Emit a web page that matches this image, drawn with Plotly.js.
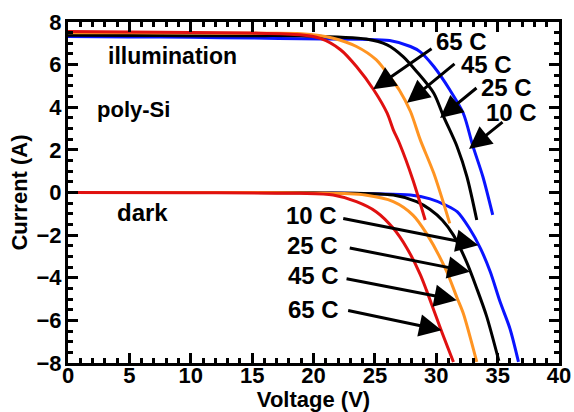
<!DOCTYPE html>
<html>
<head>
<meta charset="utf-8">
<script src="https://cdn.plot.ly/plotly-3.0.1.min.js"></script>
<style>
html,body{margin:0;padding:0;background:#fff;}
#chart{width:574px;height:412px;}
</style>
</head>
<body>
<div id="chart"></div>
<script>
// ---- Data ----
const temps = ["10 C", "25 C", "45 C", "65 C"];

// Illuminated I-V curves
const illumV10 = [0, 5, 10, 15, 19, 26.2, 27.9, 28.7, 29.8, 31.1, 32.2, 33.0, 33.8, 34.6];
const illumI10 = [7.32, 7.30, 7.28, 7.25, 7.21, 7.13, 6.85, 6.60, 5.91, 4.82, 3.72, 2.15, 0.74, -1.05];
const illumV25 = [0, 5, 10, 15, 19, 24.3, 26.0, 27.3, 28.4, 29.8, 30.6, 31.7, 32.5, 33.3];
const illumI25 = [7.38, 7.37, 7.36, 7.36, 7.35, 7.20, 6.93, 6.38, 5.68, 4.66, 3.56, 2.15, 0.74, -1.29];
const illumV45 = [0, 5, 10, 15, 19, 21.6, 23.5, 25.1, 26.2, 27.0, 27.9, 28.7, 29.8, 31.1];
const illumI45 = [7.50, 7.49, 7.48, 7.47, 7.45, 7.24, 6.85, 6.23, 5.44, 4.80, 3.80, 2.47, 0.90, -1.45];
const illumV65 = [0, 5, 10, 15, 18.9, 20.5, 22.2, 23.5, 24.9, 26.0, 26.5, 27.0, 28.1, 29.1];
const illumI65 = [7.55, 7.53, 7.51, 7.48, 7.40, 7.24, 6.70, 5.91, 4.82, 3.72, 2.94, 2.31, 0.59, -1.29];

// Dark I-V curves
const darkV10 = [0, 10, 20, 27.9, 29.5, 30.8, 31.7, 32.7, 33.6, 34.4, 35.2, 36.0, 36.7];
const darkI10 = [0, 0, -0.01, -0.12, -0.30, -0.60, -0.90, -1.68, -2.62, -3.72, -5.13, -6.38, -7.95];
const darkV25 = [0, 10, 20, 26.5, 28.4, 29.5, 30.5, 31.4, 32.5, 33.3, 34.1, 35.1];
const darkI25 = [0, 0, -0.01, -0.12, -0.43, -0.80, -1.30, -2.00, -3.30, -4.50, -5.80, -7.90];
const darkV45 = [0, 10, 20, 24.2, 26.5, 28.1, 29.2, 30.8, 31.7, 32.2, 33.3];
const darkI45 = [0, 0, -0.02, -0.12, -0.43, -1.06, -1.92, -3.64, -4.95, -5.67, -7.95];
const darkV65 = [0, 10, 18.9, 21.6, 23.5, 25.1, 26.5, 27.6, 28.7, 29.2, 30.4, 31.4];
const darkI65 = [0, -0.01, -0.04, -0.12, -0.43, -0.90, -1.68, -2.60, -3.85, -4.58, -6.46, -7.95];

// Annotation labels
const labelTexts = ["illumination", "poly-Si", "dark"];
const labelX = [8.5, 5.35, 6.1];
const labelY = [6.41, 3.88, -0.92];

// Temperature labels (illuminated group, then dark group) and their arrows
const illumTempX = [36.09, 35.76, 34.13, 32.02];
const illumTempY = [3.74, 4.91, 5.99, 7.07];
const illumArrowTailX = [35.52, 33.40, 31.61, 29.74];
const illumArrowTailY = [3.36, 4.96, 6.09, 6.79];
const illumArrowTipX = [32.67, 30.31, 27.62, 24.85];
const illumArrowTipY = [2.04, 3.50, 4.21, 4.84];

const darkTempX = [19.80, 19.88, 19.96, 19.96];
const darkTempY = [-1.06, -2.47, -3.88, -5.47];
const darkArrowTailX = [22.30, 22.83, 22.57, 22.70];
const darkArrowTailY = [-1.21, -2.59, -4.03, -5.52];
const darkArrowTipX = [33.43, 32.75, 31.67, 30.44];
const darkArrowTipY = [-2.47, -3.72, -5.05, -6.46];

// ---- Styles ----
const colors = ["#0a14ff", "#000000", "#ff9422", "#e01010"];
const FONT = "Liberation Sans, Arial, sans-serif";

const illumV = [illumV10, illumV25, illumV45, illumV65];
const illumI = [illumI10, illumI25, illumI45, illumI65];
const darkV = [darkV10, darkV25, darkV45, darkV65];
const darkI = [darkI10, darkI25, darkI45, darkI65];

const traces = [];
for (let k = 0; k < 4; k++) {
  traces.push({x: darkV[k], y: darkI[k], mode: "lines", name: "dark " + temps[k],
    line: {color: colors[k], width: 3, shape: "spline", smoothing: 0.8}, showlegend: false, hoverinfo: "skip"});
}
for (let k = 0; k < 4; k++) {
  traces.push({x: illumV[k], y: illumI[k], mode: "lines", name: "illumination " + temps[k],
    line: {color: colors[k], width: 3, shape: "spline", smoothing: 0.8}, showlegend: false, hoverinfo: "skip"});
}

const annotations = [];
const labelSizes = [23, 22, 24];
for (let i = 0; i < labelTexts.length; i++) {
  annotations.push({x: labelX[i], y: labelY[i], xref: "x", yref: "y", text: labelTexts[i],
    showarrow: false, font: {family: FONT, size: labelSizes[i], color: "#000", weight: "bold"}});
}
for (let k = 0; k < 4; k++) {
  annotations.push({x: illumTempX[k], y: illumTempY[k], xref: "x", yref: "y", text: temps[k],
    showarrow: false, font: {family: FONT, size: 24, color: "#000", weight: "bold"}});
  annotations.push({x: darkTempX[k], y: darkTempY[k], xref: "x", yref: "y", text: temps[k],
    showarrow: false, font: {family: FONT, size: 24, color: "#000", weight: "bold"}});
  annotations.push({x: illumArrowTipX[k], y: illumArrowTipY[k], ax: illumArrowTailX[k], ay: illumArrowTailY[k],
    xref: "x", yref: "y", axref: "x", ayref: "y", text: "", showarrow: true,
    arrowhead: 2, arrowsize: 1.5, arrowwidth: 3, arrowcolor: "#000", standoff: 0, startstandoff: 0});
  annotations.push({x: darkArrowTipX[k], y: darkArrowTipY[k], ax: darkArrowTailX[k], ay: darkArrowTailY[k],
    xref: "x", yref: "y", axref: "x", ayref: "y", text: "", showarrow: true,
    arrowhead: 2, arrowsize: 1.5, arrowwidth: 3, arrowcolor: "#000", standoff: 0, startstandoff: 0});
}

const axisCommon = {
  showline: true, linecolor: "#000", linewidth: 3, mirror: "ticks",
  ticks: "inside", ticklen: 10, tickwidth: 3, tickcolor: "#000",
  showgrid: false, zeroline: false,
  tickfont: {family: FONT, size: 22, color: "#000", weight: "bold"}
};

const layout = {
  width: 574, height: 412,
  margin: {l: 68, r: 15, t: 22, b: 49},
  paper_bgcolor: "#fff", plot_bgcolor: "#fff",
  showlegend: false,
  xaxis: Object.assign({}, axisCommon, {
    range: [0, 40], dtick: 5, tick0: 0, ticklabelstandoff: -9,
    minor: {dtick: 1, ticks: "inside", ticklen: 5, tickwidth: 3, tickcolor: "#000", showgrid: false},
    title: {text: "Voltage (V)", font: {family: FONT, size: 22, color: "#000", weight: "bold"}, standoff: 3}
  }),
  yaxis: Object.assign({}, axisCommon, {
    range: [-8, 8], dtick: 2, tick0: 0, ticklabelstandoff: -1,
    minor: {dtick: 0.5, ticks: "inside", ticklen: 5, tickwidth: 3, tickcolor: "#000", showgrid: false},
    title: {text: "Current (A)", font: {family: FONT, size: 22, color: "#000", weight: "bold"}, standoff: 3}
  }),
  annotations: annotations
};

Plotly.newPlot("chart", traces, layout, {displayModeBar: false, staticPlot: true});
</script>
</body>
</html>
